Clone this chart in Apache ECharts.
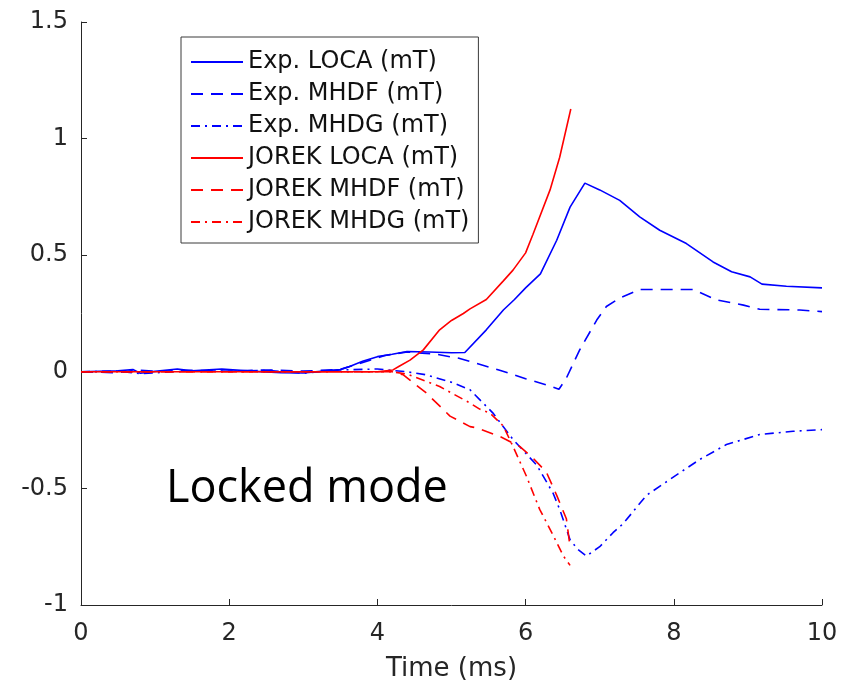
<!DOCTYPE html>
<html>
<head>
<meta charset="utf-8">
<script src="https://cdn.jsdelivr.net/npm/echarts@6/dist/echarts.min.js"></script>
<style>
html,body{margin:0;padding:0;background:#fff;}
#chart{width:844px;height:687px;}
</style>
</head>
<body>
<div id="chart"></div>
<script>
// ---- data ----
const xTicks = [0, 2, 4, 6, 8, 10];
const yTicks = [-1, -0.5, 0, 0.5, 1, 1.5];
const seriesNames = ['Exp. LOCA (mT)', 'Exp. MHDF (mT)', 'Exp. MHDG (mT)', 'JOREK LOCA (mT)', 'JOREK MHDF (mT)', 'JOREK MHDG (mT)'];

const expLocaT = [0, 0.5, 0.7, 0.8, 1.0, 1.3, 1.5, 1.9, 2.3, 2.7, 3.0, 3.3, 3.5, 3.6, 3.8, 4.0, 4.2, 4.4, 4.7, 5.0, 5.18, 5.47, 5.7, 5.85, 6.0, 6.2, 6.42, 6.6, 6.8, 7.0, 7.27, 7.54, 7.81, 8.17, 8.53, 8.78, 9.03, 9.19, 9.52, 10.0];
const expLocaV = [0, 0.004, 0.01, -0.006, 0.002, 0.012, 0.004, 0.012, 0.003, -0.004, -0.005, 0.004, 0.01, 0.02, 0.045, 0.065, 0.075, 0.087, 0.085, 0.082, 0.083, 0.18, 0.265, 0.31, 0.36, 0.42, 0.564, 0.706, 0.809, 0.78, 0.735, 0.664, 0.607, 0.55, 0.471, 0.429, 0.407, 0.376, 0.367, 0.36];

const expMhdfT = [0, 0.5, 0.75, 1.0, 1.5, 2.0, 2.5, 3.0, 3.5, 3.7, 3.9, 4.1, 4.4, 4.8, 5.1, 5.65, 6.0, 6.3, 6.45, 6.55, 6.73, 6.96, 7.09, 7.27, 7.54, 8.26, 8.58, 8.94, 9.16, 9.7, 10.0];
const expMhdfV = [0, -0.004, 0.008, 0.002, 0.006, 0.003, 0.008, 0.003, 0.01, 0.03, 0.05, 0.07, 0.085, 0.075, 0.058, 0.007, -0.03, -0.058, -0.075, -0.027, 0.094, 0.222, 0.28, 0.316, 0.353, 0.353, 0.308, 0.286, 0.268, 0.265, 0.258];

const expMhdgT = [0, 0.5, 0.8, 1.0, 1.5, 2.0, 2.5, 3.0, 3.5, 4.0, 4.4, 4.66, 5.0, 5.25, 5.56, 5.83, 6.15, 6.37, 6.46, 6.6, 6.7, 6.82, 7.0, 7.18, 7.32, 7.63, 8.08, 8.35, 8.71, 9.16, 9.61, 10.0];
const expMhdgV = [0, 0.003, -0.008, -0.004, 0.004, 0.002, 0.006, -0.006, 0.008, 0.012, 0.0, -0.013, -0.045, -0.077, -0.177, -0.29, -0.40, -0.52, -0.59, -0.72, -0.76, -0.79, -0.75, -0.69, -0.65, -0.53, -0.433, -0.376, -0.312, -0.269, -0.255, -0.248];

const jorLocaT = [0, 1, 2, 3, 4, 4.21, 4.3, 4.44, 4.62, 4.84, 5.0, 5.16, 5.25, 5.47, 5.7, 5.83, 6.0, 6.1, 6.33, 6.46, 6.61];
const jorLocaV = [0, 0, 0, 0, 0, 0.008, 0.025, 0.05, 0.094, 0.18, 0.22, 0.25, 0.27, 0.31, 0.39, 0.436, 0.51, 0.59, 0.78, 0.92, 1.127];

const jorMhdfT = [0, 1, 2, 3, 4, 4.2, 4.35, 4.66, 4.98, 5.25, 5.34, 5.65, 5.92, 6.1, 6.28, 6.42, 6.55, 6.6];
const jorMhdfV = [0, 0, 0, 0, 0, 0, -0.013, -0.091, -0.19, -0.235, -0.24, -0.277, -0.32, -0.37, -0.43, -0.53, -0.63, -0.75];

const jorMhdgT = [0, 1, 2, 3, 4, 4.2, 4.4, 4.84, 5.25, 5.38, 5.52, 5.7, 5.83, 6.01, 6.19, 6.37, 6.51, 6.6];
const jorMhdgV = [0, 0, 0, 0, 0, 0, -0.01, -0.063, -0.134, -0.16, -0.177, -0.233, -0.32, -0.447, -0.59, -0.70, -0.79, -0.83];

const annotation = 'Locked mode';
const xAxisTitle = 'Time (ms)';

// ---- build ----
const pairs = (t, v) => t.map((x, i) => [x, v[i]]);
const BLUE = '#0000ff', RED = '#ff0000';
const DASH = [12, 8];
const DASHDOT = [9, 5, 2, 5];
function mk(name, t, v, color, type) {
  return {
    name: name, type: 'line', data: pairs(t, v), symbol: 'none', smooth: false,
    lineStyle: { color: color, width: 1.6, type: type },
    itemStyle: { color: color },
    emphasis: { disabled: true }, animation: false
  };
}
const series = [
  mk(seriesNames[0], expLocaT, expLocaV, BLUE, 'solid'),
  mk(seriesNames[1], expMhdfT, expMhdfV, BLUE, DASH),
  mk(seriesNames[2], expMhdgT, expMhdgV, BLUE, DASHDOT),
  mk(seriesNames[3], jorLocaT, jorLocaV, RED, 'solid'),
  mk(seriesNames[4], jorMhdfT, jorMhdfV, RED, DASH),
  mk(seriesNames[5], jorMhdgT, jorMhdgV, RED, DASHDOT)
];

const AX = '#262626';
const FONT = 'DejaVu Sans';
const chart = echarts.init(document.getElementById('chart'), null, { renderer: 'canvas' });
chart.setOption({
  animation: false,
  backgroundColor: '#ffffff',
  grid: { left: 81, right: 22, top: 22, bottom: 81, containLabel: false },
  xAxis: {
    type: 'value', min: xTicks[0], max: xTicks[xTicks.length - 1], interval: xTicks[1] - xTicks[0],
    name: xAxisTitle, nameLocation: 'middle', nameGap: 51,
    nameTextStyle: { color: AX, fontSize: 26, fontFamily: FONT },
    axisLine: { show: true, onZero: false, lineStyle: { color: AX, width: 1 } },
    axisTick: { show: true, inside: true, length: 6, lineStyle: { color: AX } },
    axisLabel: { color: AX, fontSize: 24, fontFamily: FONT, margin: 17 },
    splitLine: { show: false }
  },
  yAxis: {
    type: 'value', min: yTicks[0], max: yTicks[yTicks.length - 1], interval: yTicks[1] - yTicks[0],
    axisLine: { show: true, onZero: false, lineStyle: { color: AX, width: 1 } },
    axisTick: { show: true, inside: true, length: 6, lineStyle: { color: AX } },
    axisLabel: { color: AX, fontSize: 24, fontFamily: FONT, margin: 13 },
    splitLine: { show: false }
  },
  legend: {
    show: true, orient: 'vertical', left: 181, top: 37,
    data: seriesNames,
    itemWidth: 52, itemHeight: 14, itemGap: 8, itemTextGap: 7,
    padding: [13, 9, 9, 9],
    itemStyle: { opacity: 0 },
    backgroundColor: '#ffffff', borderColor: '#3a3a3a', borderWidth: 1, borderRadius: 0,
    textStyle: { color: '#111', fontSize: 24, fontFamily: FONT },
    selectedMode: false
  },
  graphic: [{
    type: 'text', left: 166, top: 467, z: 100,
    style: { text: annotation, fill: '#000', font: '45px "Open Sans"' }
  }],
  series: series
});
</script>
</body>
</html>
